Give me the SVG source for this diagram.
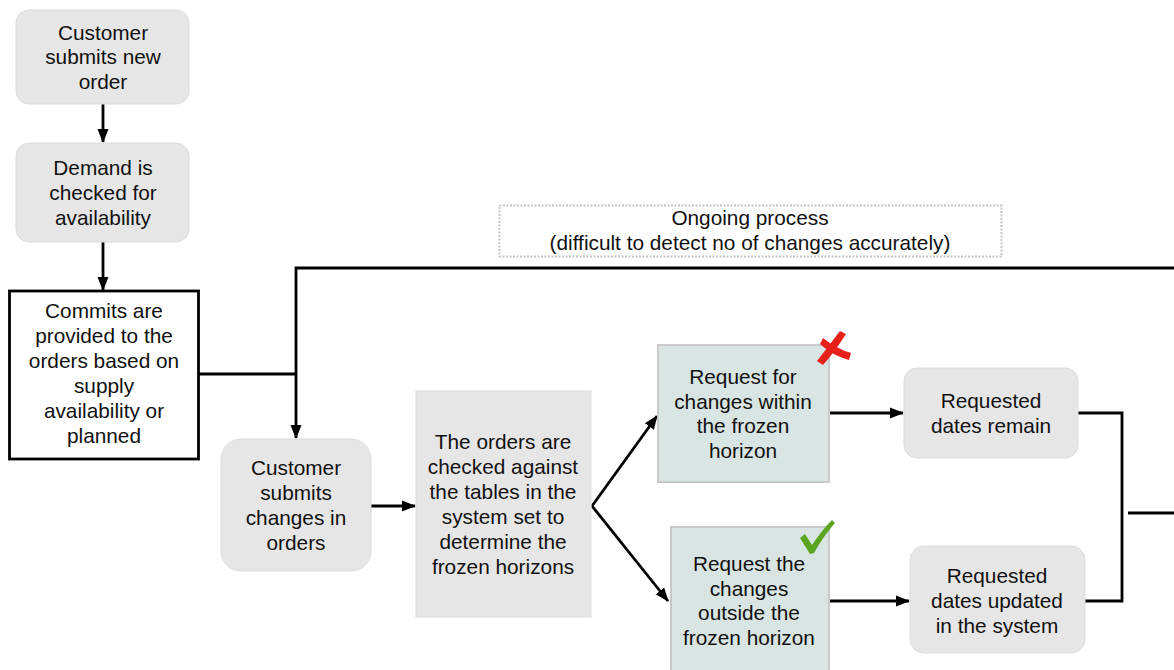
<svg xmlns="http://www.w3.org/2000/svg" width="1174" height="670" viewBox="0 0 1174 670">
<style>
text{font-family:"Liberation Sans",Arial,sans-serif;font-size:20.8px;fill:#111;text-anchor:middle}
.g{fill:#e7e6e6;stroke:#dcdcdc;stroke-width:1}
.gr{fill:#d9e5e2;stroke:#c9c9c9;stroke-width:2}
.c{fill:none;stroke:#000;stroke-width:2.8}
</style>
<defs>
<marker id="ah" markerUnits="userSpaceOnUse" markerWidth="14" markerHeight="14" viewBox="0 0 14 14" refX="13" refY="7" orient="auto">
<path d="M0,1.5 L14,7 L0,12.5 Z" fill="#000"/>
</marker>
</defs>
<rect width="1174" height="670" fill="#fff"/>

<g id="connectors">
<line class="c" x1="103" y1="104" x2="103" y2="142" marker-end="url(#ah)"/>
<line class="c" x1="103" y1="242" x2="103" y2="290" marker-end="url(#ah)"/>
<polyline class="c" points="199,374 296,374"/>
<polyline class="c" points="1174,268 296,268 296,438" marker-end="url(#ah)"/>
<line class="c" x1="371" y1="506" x2="415" y2="506" marker-end="url(#ah)"/>
<line class="c" x1="592" y1="506" x2="657" y2="416" marker-end="url(#ah)"/>
<line class="c" x1="592" y1="506" x2="668" y2="601" marker-end="url(#ah)"/>
<line class="c" x1="829" y1="413" x2="903" y2="413" marker-end="url(#ah)"/>
<line class="c" x1="829" y1="601" x2="909" y2="601" marker-end="url(#ah)"/>
<polyline class="c" points="1078,413 1122,413 1122,601 1085,601"/>
<line class="c" x1="1128" y1="513" x2="1174" y2="513"/>
</g>

<g id="ongoing">
<rect x="499.5" y="205.5" width="502" height="51" fill="#fff" stroke="#c4c4c4" stroke-width="2" stroke-dasharray="2 1.5"/>
<text x="750" y="225">Ongoing process</text>
<text x="750" y="250">(difficult to detect no of changes accurately)</text>
</g>

<g id="n1">
<rect class="g" x="16" y="10" width="173" height="94" rx="13"/>
<text x="103" y="40">Customer</text>
<text x="103" y="64">submits new</text>
<text x="103" y="89">order</text>
</g>

<g id="n2">
<rect class="g" x="16" y="143" width="173" height="99" rx="13"/>
<text x="103" y="175">Demand is</text>
<text x="103" y="200">checked for</text>
<text x="103" y="225">availability</text>
</g>

<g id="n3">
<rect x="9.5" y="291" width="189" height="168" fill="#fff" stroke="#000" stroke-width="2.8"/>
<text x="104" y="318">Commits are</text>
<text x="104" y="343">provided to the</text>
<text x="104" y="368">orders based on</text>
<text x="104" y="393">supply</text>
<text x="104" y="418">availability or</text>
<text x="104" y="443">planned</text>
</g>

<g id="n4">
<rect class="g" x="221" y="439" width="150" height="132" rx="20"/>
<text x="296" y="475">Customer</text>
<text x="296" y="500">submits</text>
<text x="296" y="525">changes in</text>
<text x="296" y="550">orders</text>
</g>

<g id="n5">
<rect class="g" x="416" y="391" width="175" height="226"/>
<text x="503" y="449">The orders are</text>
<text x="503" y="474">checked against</text>
<text x="503" y="499">the tables in the</text>
<text x="503" y="524">system set to</text>
<text x="503" y="549">determine the</text>
<text x="503" y="574">frozen horizons</text>
</g>

<g id="n6">
<rect class="gr" x="658" y="345" width="171" height="137"/>
<text x="743" y="384">Request for</text>
<text x="743" y="409">changes within</text>
<text x="743" y="433">the frozen</text>
<text x="743" y="458">horizon</text>
<path d="M817,361 C825,351 833,340 840,331 L846,334 C839,345 831,356 823,365 Z" fill="#e8201a"/>
<path d="M823,338 C832,345 841,350 851,353 L849,360 C838,357 829,352 820,344 Z" fill="#e8201a"/>
</g>

<g id="n7">
<rect class="gr" x="671" y="527" width="158" height="150"/>
<text x="749" y="571">Request the</text>
<text x="749" y="596">changes</text>
<text x="749" y="620">outside the</text>
<text x="749" y="645">frozen horizon</text>
<path d="M800,538 L805,534 L812,545 C818,536 825,527 832,520 L835,523 C827,532 820,542 814,553 L810,554 Z" fill="#5aa51f"/>
</g>

<g id="n8">
<rect class="g" x="904" y="368" width="174" height="90" rx="13"/>
<text x="991" y="408">Requested</text>
<text x="991" y="433">dates remain</text>
</g>

<g id="n9">
<rect class="g" x="910" y="546" width="175" height="107" rx="14"/>
<text x="997" y="583">Requested</text>
<text x="997" y="608">dates updated</text>
<text x="997" y="633">in the system</text>
</g>
</svg>
